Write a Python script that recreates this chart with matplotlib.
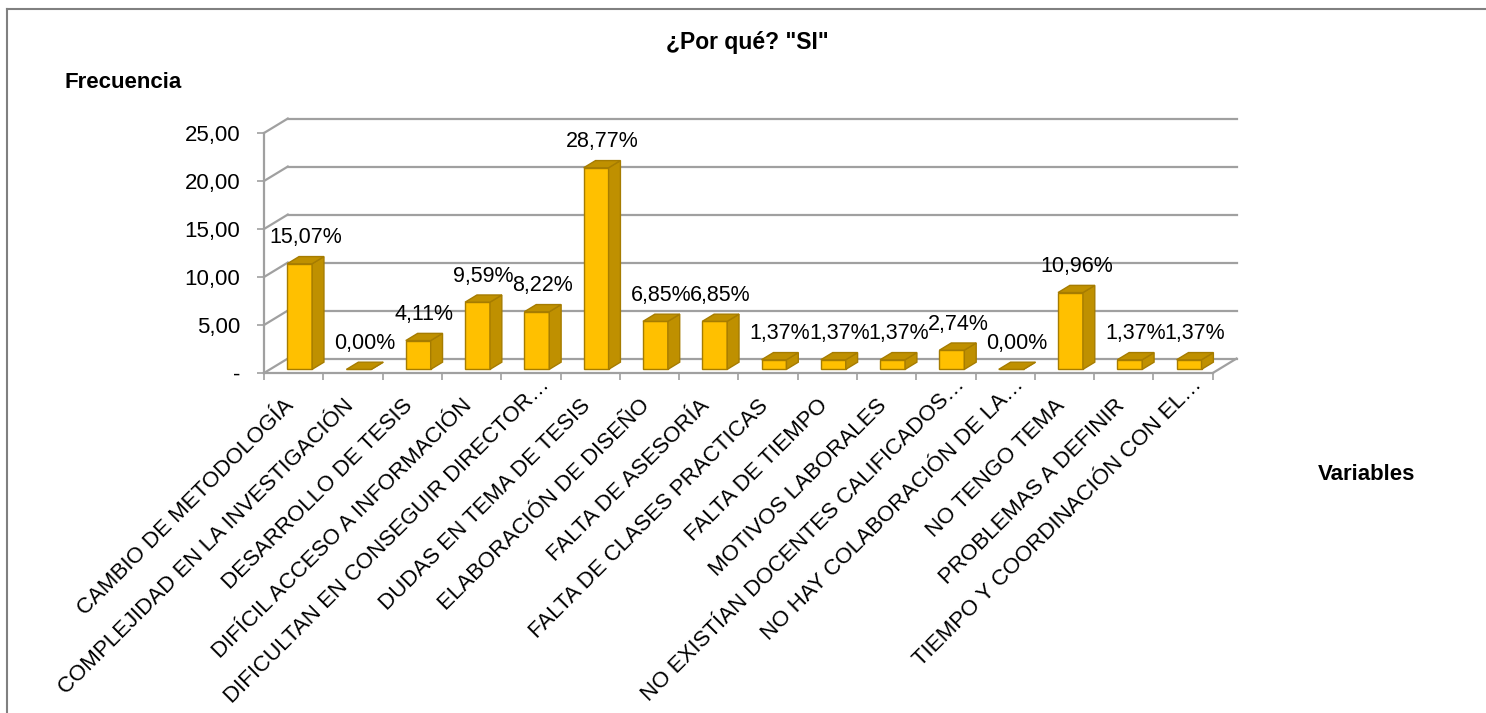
import numpy as np
import matplotlib
matplotlib.use("Agg")
import matplotlib.pyplot as plt
from matplotlib.patches import Polygon
from matplotlib.lines import Line2D
from matplotlib.transforms import ScaledTranslation

# ======================================================================
#    Data
# ======================================================================
categorias = [
    "CAMBIO DE METODOLOGÍA",
    "COMPLEJIDAD EN LA INVESTIGACIÓN",
    "DESARROLLO DE TESIS",
    "DIFÍCIL ACCESO A INFORMACIÓN",
    "DIFICULTAN EN CONSEGUIR DIRECTOR…",
    "DUDAS EN TEMA DE TESIS",
    "ELABORACIÓN DE DISEÑO",
    "FALTA DE ASESORÍA",
    "FALTA DE CLASES PRACTICAS",
    "FALTA DE TIEMPO",
    "MOTIVOS LABORALES",
    "NO EXISTÍAN DOCENTES CALIFICADOS…",
    "NO HAY COLABORACIÓN DE LA…",
    "NO TENGO TEMA",
    "PROBLEMAS A DEFINIR",
    "TIEMPO Y COORDINACIÓN CON EL…",
]
frecuencia = [11, 0, 3, 7, 6, 21, 5, 5, 1, 1, 1, 2, 0, 8, 1, 1]
porcentaje = ["15,07%", "0,00%", "4,11%", "9,59%", "8,22%", "28,77%", "6,85%", "6,85%",
              "1,37%", "1,37%", "1,37%", "2,74%", "0,00%", "10,96%", "1,37%", "1,37%"]
y_ticks = [0, 5, 10, 15, 20, 25]
y_tick_labels = ["-", "5,00", "10,00", "15,00", "20,00", "25,00"]

# ======================================================================
#    Style / 3D look
# ======================================================================
FONT = ["Liberation Sans", "DejaVu Sans"]
plt.rcParams["font.family"] = FONT

c_front = "#FFC000"
c_side = "#BF9000"
c_edge = "#A67C00"
c_grid = "#A0A0A0"

DX, DY = 0.40, 1.5          # full depth of the floor in data units
f0, f1 = 0.25, 0.75         # bar front / back depth fractions
half_w = 0.21

n = len(categorias)
fig = plt.figure(figsize=(14.86, 7.13), dpi=100)
ax = fig.add_axes([0.1777, 0.4769, 0.6544, 0.3568])
ax.set_xlim(0, n + DX)
ax.set_ylim(0, 25 + DY)
for s in ax.spines.values():
    s.set_visible(False)

# walls and grid
ax.plot([0, 0], [0, 25], color=c_grid, lw=1.6, clip_on=False)
ax.plot([0, n], [0, 0], color=c_grid, lw=1.6, clip_on=False)
ax.plot([n, n + DX], [0, DY], color=c_grid, lw=1.6, clip_on=False)
for yv in y_ticks:
    ax.plot([0, DX], [yv, yv + DY], color=c_grid, lw=1.6, clip_on=False)
    ax.plot([DX, n + DX], [yv + DY, yv + DY], color=c_grid, lw=1.6, clip_on=False)

# bars
centers = np.arange(n) + 0.5
fx, fy = f0 * DX, f0 * DY
bx, by = f1 * DX, f1 * DY
ax.bar(centers + fx, frecuencia, width=2 * half_w, bottom=fy, color=c_front,
       edgecolor=c_edge, linewidth=1.0, zorder=3)
for c, v, lab in zip(centers, frecuencia, porcentaje):
    side = [(c + half_w + fx, fy), (c + half_w + bx, by),
            (c + half_w + bx, by + v), (c + half_w + fx, fy + v)]
    top = [(c - half_w + fx, fy + v), (c + half_w + fx, fy + v),
           (c + half_w + bx, by + v), (c - half_w + bx, by + v)]
    ax.add_patch(Polygon(side, closed=True, facecolor=c_side, edgecolor=c_edge, lw=1.0, zorder=3))
    ax.add_patch(Polygon(top, closed=True, facecolor=c_side, edgecolor=c_edge, lw=1.0, zorder=3))
    ax.annotate(lab, (c + (fx + bx) / 2, by + v), xytext=(0, 6), textcoords="offset points",
                ha="center", va="bottom", fontsize=15.5, color="#000000", zorder=4,
                annotation_clip=False)

# ticks
ax.set_yticks(y_ticks, y_tick_labels)
ax.tick_params(axis="y", length=5, width=1.2, color=c_grid, labelsize=16, pad=12)
ax.set_xticks(np.arange(n + 1))
ax.tick_params(axis="x", which="major", length=5, width=1.2, color=c_grid, labelbottom=False)
ax.set_xticks(centers, categorias, minor=True)
ax.tick_params(axis="x", which="minor", length=0, labelsize=16, pad=16)
for t in ax.get_xticklabels(minor=True):
    t.set_rotation(45)
    t.set_ha("right")
    t.set_rotation_mode("anchor")
    # truncated labels sit further along the text direction
    if t.get_text().endswith("…"):
        shift = ScaledTranslation(0.08, 0.21, fig.dpi_scale_trans)
    else:
        shift = ScaledTranslation(-0.10, 0, fig.dpi_scale_trans)
    t.set_transform(t.get_transform() + shift)

# titles
fig.text(747 / 1486, 1 - 43 / 713, '¿Por qué? "SI"', ha="center", va="center",
         fontsize=16.5, fontweight="bold")
fig.text(65 / 1486, 1 - 82 / 713, "Frecuencia", ha="left", va="center",
         fontsize=16, fontweight="bold")
fig.text(1318 / 1486, 1 - 474 / 713, "Variables", ha="left", va="center",
         fontsize=16, fontweight="bold")

# outer frame
fig.add_artist(Line2D([7 / 1486, 7 / 1486], [0, 1 - 9 / 713], color="#808080", lw=1.5))
fig.add_artist(Line2D([7 / 1486, 1], [1 - 9 / 713, 1 - 9 / 713], color="#808080", lw=1.5))

fig.savefig("out.png", dpi=100)
